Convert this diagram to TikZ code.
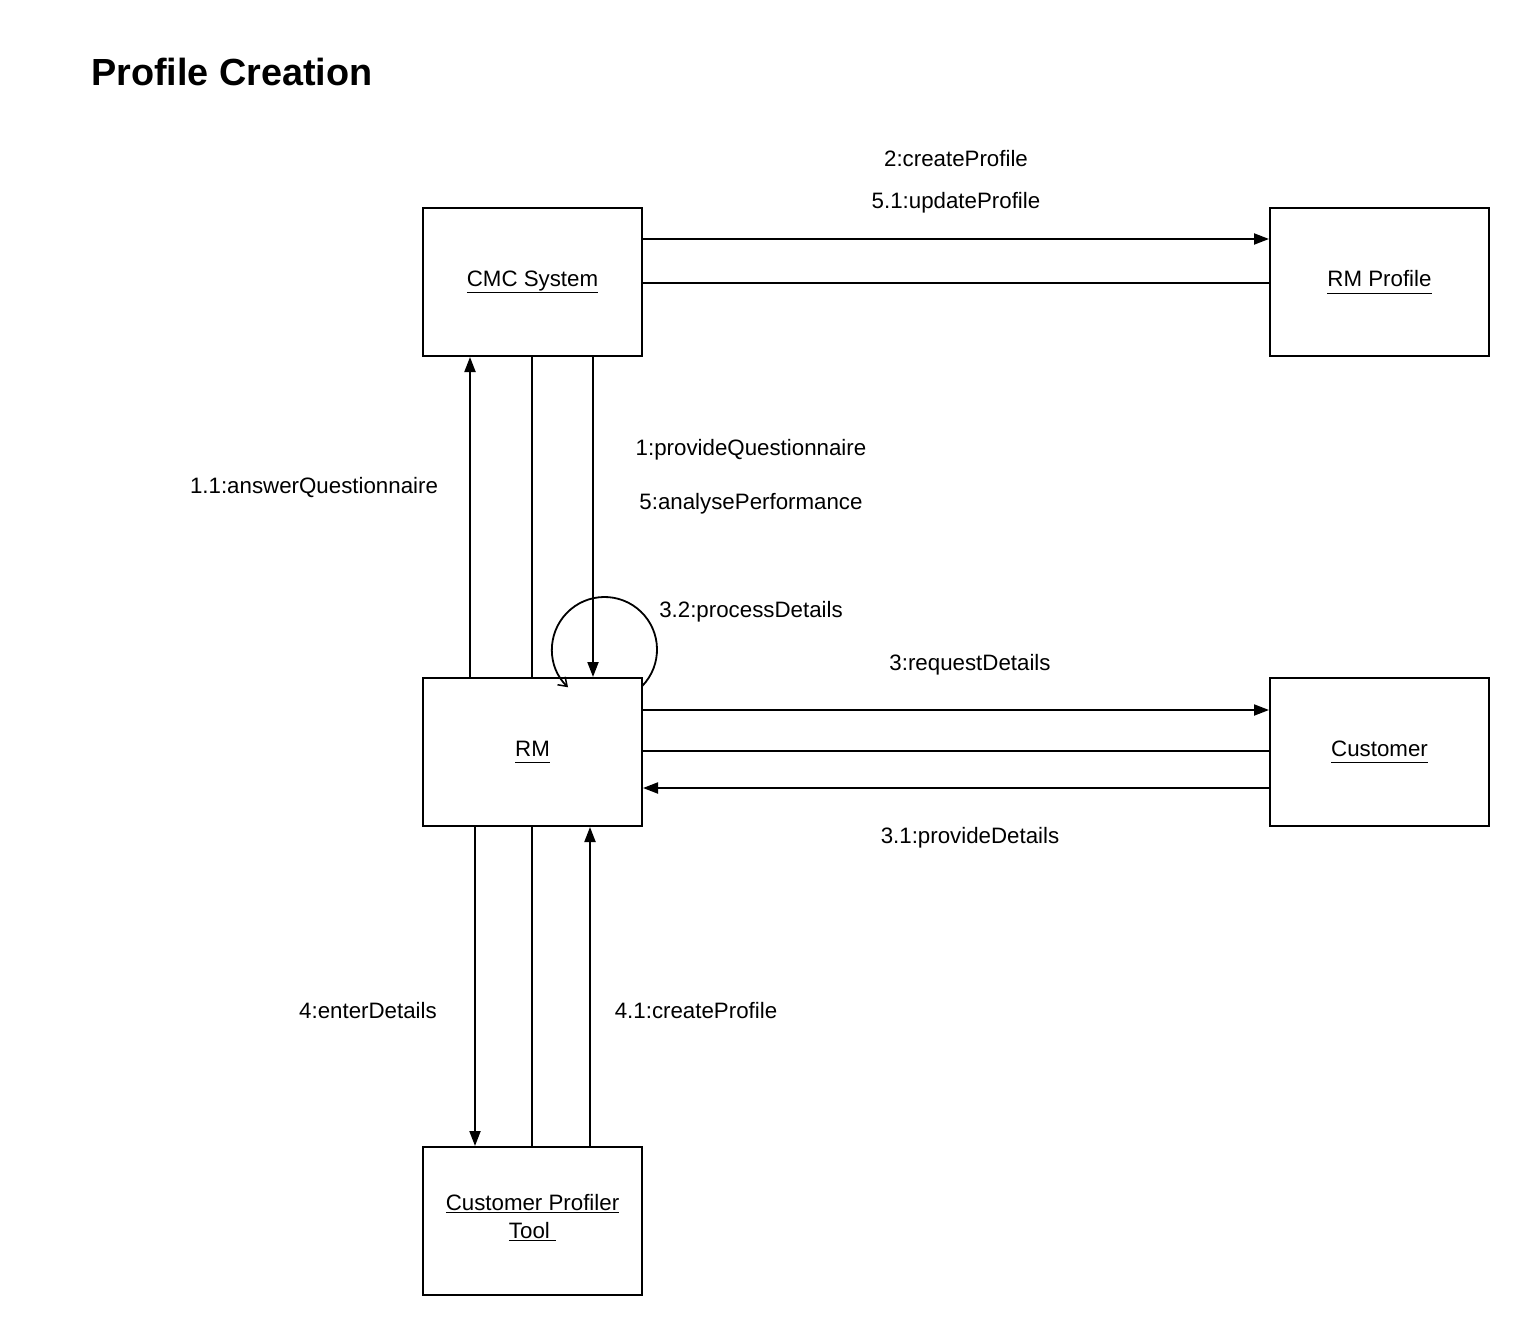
\documentclass[tikz,border=0pt]{standalone}
\usepackage{fontspec}
\setmainfont{Liberation Sans}
\usetikzlibrary{arrows.meta}
\begin{document}
\begin{tikzpicture}[x=1pt,y=-1pt,
  obj/.style={draw,line width=2pt,minimum width=219pt,minimum height=148pt,inner sep=0pt,align=center,font=\fontsize{22.3}{27}\selectfont},
  lbl/.style={font=\fontsize{22.3}{27}\selectfont,inner sep=0pt},
  conn/.style={line width=2pt},
  msg/.style={conn,-{Triangle[length=15pt,width=11pt]}}]
\useasboundingbox (0,0) rectangle (1530,1337);
\node[anchor=west,font=\fontsize{37.8}{44}\selectfont\bfseries,inner sep=0pt] (title) at (91,72) {Profile Creation};
\node[obj] (cmc) at (532.5,282) {\underline{CMC System}};
\node[obj] (rmp) at (1379.5,282) {\underline{RM Profile\vphantom{y}}};
\node[obj] (rm) at (532.5,752) {\underline{RM\vphantom{y}}};
\node[obj] (cust) at (1379.5,752) {\underline{Customer\vphantom{y}}};
\node[obj,label={[lbl,align=center,yshift=3.5pt]center:\underline{Customer Profiler}\\[1pt]\underline{Tool\ }}] (cpt) at (532.5,1221) {};
% CMC - RM Profile
\draw[msg] (cmc.east |- 0,239) -- (rmp.west |- 0,239);
\draw[conn] (cmc.east |- 0,283) -- (rmp.west |- 0,283);
\node[lbl] (l2) at (956,159) {2:createProfile};
\node[lbl] (l51) at (956,203) {5.1:updateProfile};
% CMC - RM
\draw[msg] (rm.north -| 470,0) -- (cmc.south -| 470,0);
\draw[conn] (rm.north -| 532,0) -- (cmc.south -| 532,0);
\draw[msg] (cmc.south -| 593,0) -- (rm.north -| 593,0);
\node[lbl] (l11) at (314,488) {1.1:answerQuestionnaire};
\node[lbl] (l1) at (751,450) {1:provideQuestionnaire};
\node[lbl] (l5) at (751,504) {5:analysePerformance};
% self loop
\coordinate (sc) at (604.5,649.5);
\draw[conn,line width=1.8pt,-{Straight Barb[length=8pt,width=11pt,line width=1.5pt]}] ([shift={(44:52.5)}]sc) arc[start angle=44,end angle=-226,radius=52.5];
\node[lbl] (l32) at (751,612) {3.2:processDetails};
% RM - Customer
\draw[msg] (rm.east |- 0,710) -- (cust.west |- 0,710);
\draw[conn] (rm.east |- 0,751) -- (cust.west |- 0,751);
\draw[msg] (cust.west |- 0,788) -- (rm.east |- 0,788);
\node[lbl] (l3) at (970,665) {3:requestDetails};
\node[lbl] (l31) at (970,838) {3.1:provideDetails};
% RM - CPT
\draw[msg] (rm.south -| 475,0) -- (cpt.north -| 475,0);
\draw[conn] (rm.south -| 532,0) -- (cpt.north -| 532,0);
\draw[msg] (cpt.north -| 590,0) -- (rm.south -| 590,0);
\node[lbl] (l4) at (368,1011) {4:enterDetails};
\node[lbl] (l41) at (696,1011) {4.1:createProfile};
\end{tikzpicture}
\end{document}
